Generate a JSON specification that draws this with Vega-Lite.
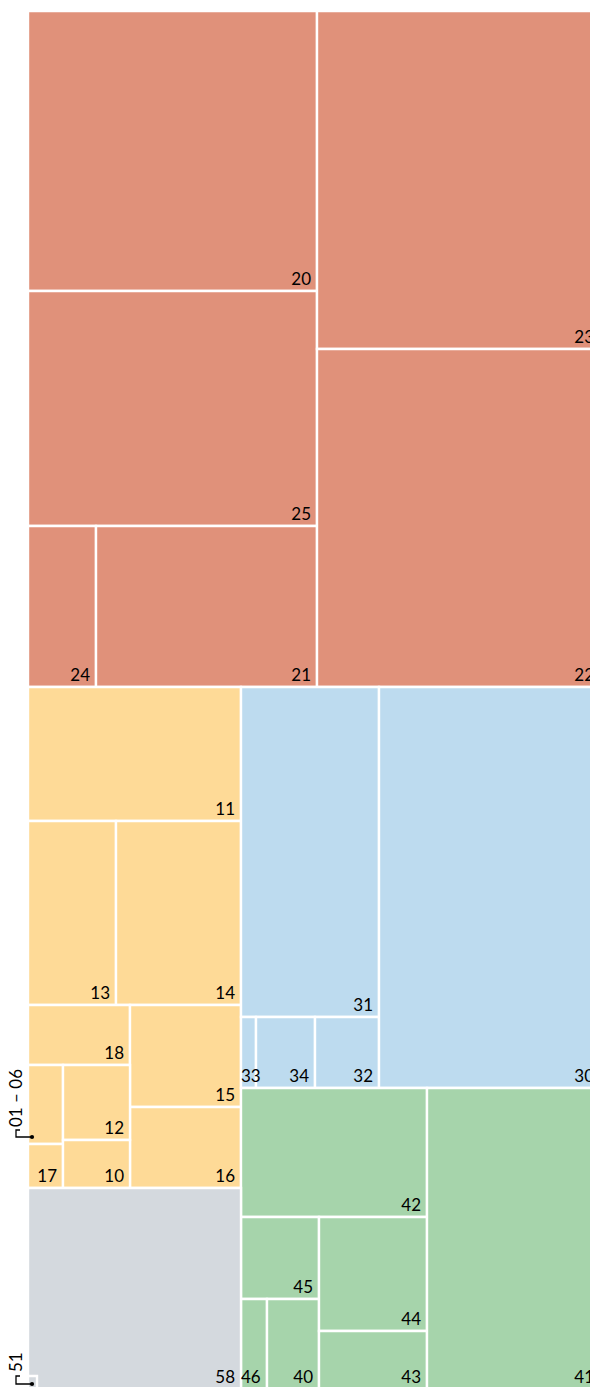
{
  "$schema": "https://vega.github.io/schema/vega-lite/v6.json",
  "width": 571,
  "height": 1376,
  "autosize": {"type": "none"},
  "padding": {"left": 29, "top": 12, "right": 0, "bottom": 0},
  "background": "white",
  "config": {"view": {"stroke": null}},
  "datasets": {
    "cells": [
      {"id": "20", "group": "2", "x0": -1, "x1": 288, "y0": -1, "y1": 279},
      {"id": "25", "group": "2", "x0": -1, "x1": 288, "y0": 279, "y1": 514},
      {"id": "24", "group": "2", "x0": -1, "x1": 67, "y0": 514, "y1": 675},
      {"id": "21", "group": "2", "x0": 67, "x1": 288, "y0": 514, "y1": 675},
      {"id": "23", "group": "2", "x0": 288, "x1": 571, "y0": -1, "y1": 337},
      {"id": "22", "group": "2", "x0": 288, "x1": 571, "y0": 337, "y1": 675},
      {"id": "11", "group": "1", "x0": -1, "x1": 212, "y0": 675, "y1": 809},
      {"id": "13", "group": "1", "x0": -1, "x1": 87, "y0": 809, "y1": 993},
      {"id": "14", "group": "1", "x0": 87, "x1": 212, "y0": 809, "y1": 993},
      {"id": "18", "group": "1", "x0": -1, "x1": 101, "y0": 993, "y1": 1053},
      {"id": "15", "group": "1", "x0": 101, "x1": 212, "y0": 993, "y1": 1095},
      {"id": "16", "group": "1", "x0": 101, "x1": 212, "y0": 1095, "y1": 1176},
      {"id": "", "group": "1", "x0": -1, "x1": 34, "y0": 1053, "y1": 1132},
      {"id": "17", "group": "1", "x0": -1, "x1": 34, "y0": 1132, "y1": 1176},
      {"id": "12", "group": "1", "x0": 34, "x1": 101, "y0": 1053, "y1": 1128},
      {"id": "10", "group": "1", "x0": 34, "x1": 101, "y0": 1128, "y1": 1176},
      {"id": "31", "group": "3", "x0": 212, "x1": 350, "y0": 675, "y1": 1005},
      {"id": "33", "group": "3", "x0": 212, "x1": 227, "y0": 1005, "y1": 1076},
      {"id": "34", "group": "3", "x0": 227, "x1": 286, "y0": 1005, "y1": 1076},
      {"id": "32", "group": "3", "x0": 286, "x1": 350, "y0": 1005, "y1": 1076},
      {"id": "30", "group": "3", "x0": 350, "x1": 571, "y0": 675, "y1": 1076},
      {"id": "42", "group": "4", "x0": 212, "x1": 398, "y0": 1076, "y1": 1205},
      {"id": "45", "group": "4", "x0": 212, "x1": 290, "y0": 1205, "y1": 1287},
      {"id": "46", "group": "4", "x0": 212, "x1": 238, "y0": 1287, "y1": 1377},
      {"id": "40", "group": "4", "x0": 238, "x1": 290, "y0": 1287, "y1": 1377},
      {"id": "44", "group": "4", "x0": 290, "x1": 398, "y0": 1205, "y1": 1319},
      {"id": "43", "group": "4", "x0": 290, "x1": 398, "y0": 1319, "y1": 1377},
      {"id": "41", "group": "4", "x0": 398, "x1": 571, "y0": 1076, "y1": 1377},
      {"id": "58", "group": "5", "x0": -1, "x1": 212, "y0": 1176, "y1": 1377},
      {"id": "", "group": "5", "x0": -1, "x1": 8, "y0": 1364, "y1": 1377}
    ],
    "brackets": [
      {"name": "01 – 06", "step": 1, "x": -9, "y": 1118},
      {"name": "01 – 06", "step": 2, "x": -13, "y": 1118},
      {"name": "01 – 06", "step": 3, "x": -13, "y": 1125},
      {"name": "01 – 06", "step": 4, "x": 3, "y": 1125},
      {"name": "51", "step": 1, "x": -9, "y": 1364},
      {"name": "51", "step": 2, "x": -13, "y": 1364},
      {"name": "51", "step": 3, "x": -13, "y": 1372},
      {"name": "51", "step": 4, "x": 3, "y": 1372}
    ],
    "notes": [
      {"name": "01 – 06", "tx": -7, "ty": 1115, "px": 3, "py": 1125},
      {"name": "51", "tx": -7, "ty": 1360, "px": 3, "py": 1372}
    ]
  },
  "layer": [
    {
      "data": {"name": "cells"},
      "mark": {"type": "rect", "stroke": "white", "strokeWidth": 2.4},
      "encoding": {
        "x": {"field": "x0", "type": "quantitative", "scale": {"domain": [0, 571], "nice": false, "zero": false}, "axis": null},
        "x2": {"field": "x1"},
        "y": {"field": "y0", "type": "quantitative", "scale": {"domain": [0, 1376], "nice": false, "zero": false, "reverse": true}, "axis": null},
        "y2": {"field": "y1"},
        "color": {"field": "group", "type": "nominal", "legend": null,
          "scale": {"domain": ["1", "2", "3", "4", "5"], "range": ["#FEDA97", "#E0917A", "#BDDBEF", "#A6D4AB", "#D4D9DE"]}}
      }
    },
    {
      "data": {"name": "cells"},
      "transform": [{"filter": "datum.id != '' && datum.x1 - datum.x0 >= 30"}],
      "mark": {"type": "text", "align": "right", "baseline": "alphabetic", "dx": -6, "dy": -6, "font": "Lato", "fontSize": 17, "color": "black"},
      "encoding": {
        "x": {"field": "x1", "type": "quantitative"},
        "y": {"field": "y1", "type": "quantitative"},
        "text": {"field": "id"}
      }
    },
    {
      "data": {"name": "cells"},
      "transform": [{"filter": "datum.id != '' && datum.x1 - datum.x0 < 30"}],
      "mark": {"type": "text", "align": "left", "baseline": "alphabetic", "dx": 0, "dy": -6, "font": "Lato", "fontSize": 17, "color": "black"},
      "encoding": {
        "x": {"field": "x0", "type": "quantitative"},
        "y": {"field": "y1", "type": "quantitative"},
        "text": {"field": "id"}
      }
    },
    {
      "data": {"name": "brackets"},
      "mark": {"type": "line", "color": "black", "strokeWidth": 1.3, "interpolate": "linear"},
      "encoding": {
        "x": {"field": "x", "type": "quantitative"},
        "y": {"field": "y", "type": "quantitative"},
        "detail": {"field": "name"},
        "order": {"field": "step"}
      }
    },
    {
      "data": {"name": "notes"},
      "mark": {"type": "point", "filled": true, "color": "black", "opacity": 1, "size": 18},
      "encoding": {
        "x": {"field": "px", "type": "quantitative"},
        "y": {"field": "py", "type": "quantitative"}
      }
    },
    {
      "data": {"name": "notes"},
      "mark": {"type": "text", "angle": 270, "align": "left", "baseline": "alphabetic", "font": "Lato", "fontSize": 17, "color": "black"},
      "encoding": {
        "x": {"field": "tx", "type": "quantitative"},
        "y": {"field": "ty", "type": "quantitative"},
        "text": {"field": "name"}
      }
    }
  ]
}
